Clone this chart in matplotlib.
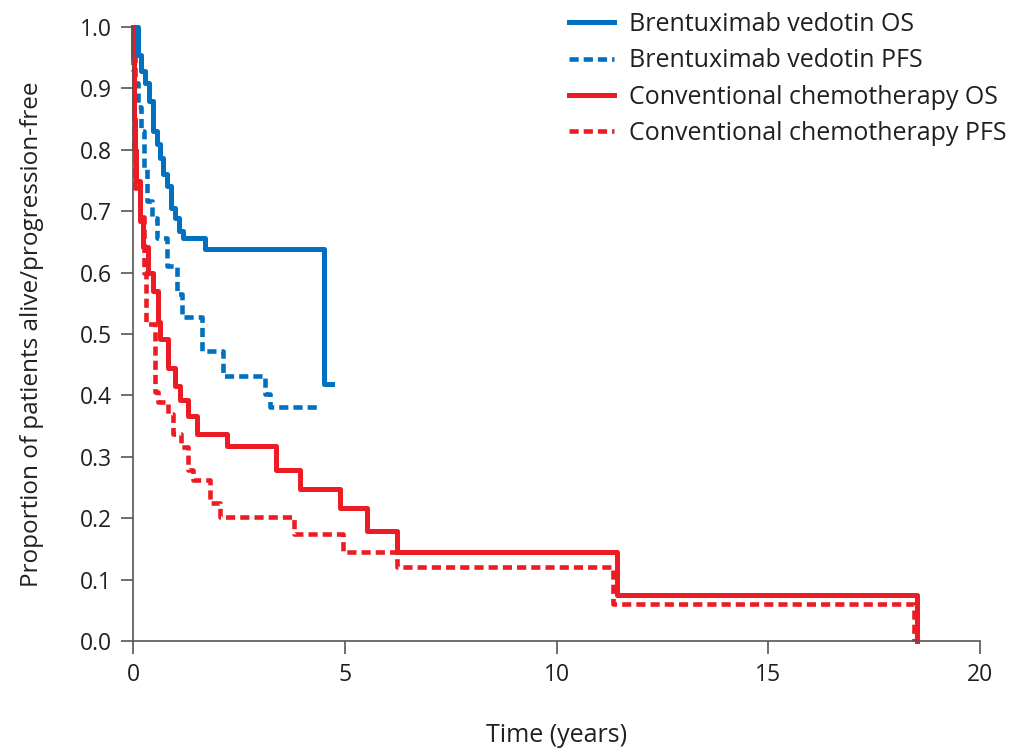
import matplotlib
matplotlib.use("Agg")
import matplotlib.pyplot as plt

plt.rcParams['font.family'] = ['Open Sans', 'DejaVu Sans']

# Kaplan-Meier step data (time in years, proportion after each step)
bv_os_t = [0, 0.11, 0.18, 0.28, 0.385, 0.48, 0.56, 0.64, 0.70, 0.80, 0.89, 0.99, 1.09, 1.19, 1.70, 4.51, 4.69]
bv_os_s = [1.0, 0.955, 0.928, 0.909, 0.879, 0.830, 0.809, 0.787, 0.760, 0.741, 0.706, 0.689, 0.668, 0.657, 0.638, 0.419, 0.419]

bv_pfs_t = [0, 0.05, 0.12, 0.19, 0.26, 0.34, 0.44, 0.56, 0.80, 1.03, 1.15, 1.62, 2.13, 3.12, 3.23, 4.42]
bv_pfs_s = [1.0, 0.909, 0.870, 0.830, 0.771, 0.716, 0.689, 0.657, 0.611, 0.565, 0.527, 0.473, 0.431, 0.403, 0.381, 0.381]

cc_os_t = [0, 0.01, 0.02, 0.03, 0.045, 0.06, 0.16, 0.24, 0.36, 0.48, 0.60, 0.64, 0.82, 0.99, 1.11,
           1.31, 1.50, 2.23, 3.38, 3.94, 4.89, 5.52, 6.24, 11.42, 18.52]
cc_os_s = [1.0, 0.95, 0.90, 0.85, 0.80, 0.749, 0.684, 0.641, 0.600, 0.570, 0.519, 0.492, 0.444, 0.416, 0.392,
           0.367, 0.337, 0.317, 0.278, 0.248, 0.217, 0.179, 0.145, 0.075, 0.0]

cc_pfs_t = [0, 0.01, 0.02, 0.03, 0.04, 0.17, 0.25, 0.30, 0.52, 0.60, 0.82, 0.95, 1.14, 1.30, 1.42,
            1.82, 2.05, 3.79, 4.97, 6.24, 11.33, 18.43]
cc_pfs_s = [1.0, 0.93, 0.86, 0.80, 0.738, 0.69, 0.60, 0.517, 0.405, 0.389, 0.370, 0.337, 0.316, 0.278, 0.262,
            0.224, 0.202, 0.175, 0.145, 0.120, 0.060, 0.0]

labels = ["Brentuximab vedotin OS", "Brentuximab vedotin PFS",
          "Conventional chemotherapy OS", "Conventional chemotherapy PFS"]
x_ticks = [0, 5, 10, 15, 20]
y_ticks = [0.0, 0.1, 0.2, 0.3, 0.4, 0.5, 0.6, 0.7, 0.8, 0.9, 1.0]

BLUE = "#0070C0"
RED = "#ED1C24"
TXT = "#231F20"
AX = "#555555"

fig = plt.figure(figsize=(10.18, 7.49), dpi=100)
ax = fig.add_axes([133/1018, 1-641/749, (980-133)/1018, (641-27)/749])

dash = (0, (2.0, 1.1))
h1, = ax.step(bv_os_t, bv_os_s, where='post', color=BLUE, lw=3.6, clip_on=False, label=labels[0])
h2, = ax.step(bv_pfs_t, bv_pfs_s, where='post', color=BLUE, lw=3.3, ls=dash, clip_on=False, label=labels[1])
h3, = ax.step(cc_os_t, cc_os_s, where='post', color=RED, lw=3.6, clip_on=False, label=labels[2])
h4, = ax.step(cc_pfs_t, cc_pfs_s, where='post', color=RED, lw=3.3, ls=dash, clip_on=False, label=labels[3])

ax.set_xlim(0, 20)
ax.set_ylim(0, 1)
ax.set_xticks(x_ticks)
ax.set_xticklabels([str(v) for v in x_ticks])
ax.set_yticks(y_ticks)
ax.set_yticklabels([f"{v:.1f}" for v in y_ticks])

for s in ['top', 'right']:
    ax.spines[s].set_visible(False)
for s in ['left', 'bottom']:
    ax.spines[s].set_color(AX)
    ax.spines[s].set_linewidth(1.2)

ax.tick_params(axis='both', direction='out', length=9, width=1.2, color=AX,
               labelsize=16.5, labelcolor=TXT)
ax.tick_params(axis='y', pad=6)
ax.tick_params(axis='x', pad=7)

ax.set_xlabel("Time (years)", fontsize=18, color=TXT, labelpad=26)
ax.set_ylabel("Proportion of patients alive/progression-free", fontsize=17.5, color=TXT, labelpad=26)

leg = fig.legend(handles=[h1, h2, h3, h4], labels=labels, loc='upper left',
                 bbox_to_anchor=(569/1018, 1-12/749), bbox_transform=fig.transFigure,
                 frameon=False, fontsize=18, handlelength=1.8, handletextpad=0.6,
                 labelspacing=0.45, borderpad=0, borderaxespad=0)
for t in leg.get_texts():
    t.set_color(TXT)

fig.savefig("out.png", dpi=100)
